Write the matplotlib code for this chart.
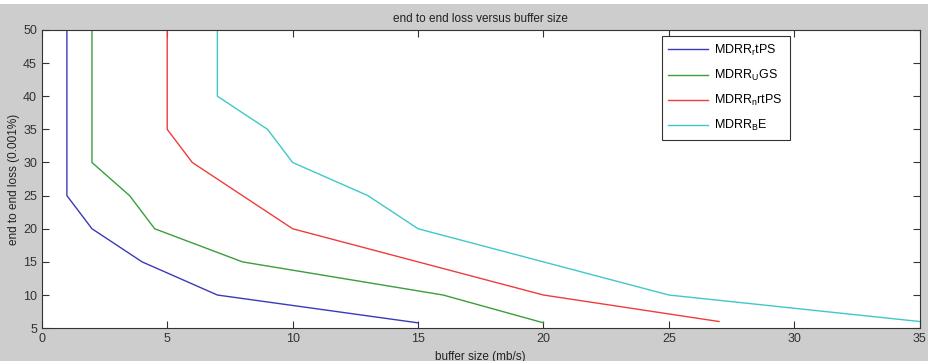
import matplotlib
matplotlib.use("Agg")
import matplotlib.pyplot as plt
from matplotlib.patches import Rectangle

plt.rcParams['font.family'] = ['Liberation Sans', 'DejaVu Sans']
plt.rcParams['mathtext.default'] = 'regular'

# series data (buffer size, loss)
rtps_x = [1, 1, 2, 4, 7, 15]
rtps_y = [50, 25, 20, 15, 10, 5.8]
ugs_x = [2, 2, 3.5, 4.5, 8, 16, 20]
ugs_y = [50, 30, 25, 20, 15, 10, 5.8]
nrtps_x = [5, 5, 6, 10, 15, 20, 27]
nrtps_y = [50, 35, 30, 20, 15, 10, 6]
be_x = [7, 7, 9, 10, 13, 15, 20, 25, 35]
be_y = [50, 40, 35, 30, 25, 20, 15, 10, 6]

labels = [r'MDRR$_r$tPS', r'MDRR$_U$GS', r'MDRR$_n$rtPS', r'MDRR$_B$E']
colors = ['#3a3ab8', '#3a9e3a', '#f03c3c', '#40c8c8']

def main():
    fig = plt.figure(figsize=(9.29, 3.61), dpi=100, facecolor='#cdcdcd')
    # thin white strip along the top edge
    fig.patches.append(Rectangle((0, 0.989), 1, 0.011, transform=fig.transFigure,
                                 facecolor='white', edgecolor='none'))
    ax = fig.add_axes([0.045, 0.091, 0.945, 0.826])
    ax.plot(rtps_x, rtps_y, color=colors[0], lw=1, label=labels[0])
    ax.plot(ugs_x, ugs_y, color=colors[1], lw=1, label=labels[1])
    ax.plot(nrtps_x, nrtps_y, color=colors[2], lw=1, label=labels[2])
    ax.plot(be_x, be_y, color=colors[3], lw=1, label=labels[3])

    ax.set_xlim(0, 35)
    ax.set_ylim(5, 50)
    ax.set_xticks(range(0, 36, 5))
    ax.set_yticks(range(5, 51, 5))
    ax.tick_params(direction='in', length=5, labelsize=9, colors='#333333',
                   top=True, right=True)
    for s in ax.spines.values():
        s.set_color('#333333')
    ax.set_title('end to end loss versus buffer size', fontsize=8.5, pad=6,
                 color='#222222')
    ax.set_xlabel('buffer size (mb/s)', fontsize=8.5, labelpad=4,
                  color='#222222')
    ax.set_ylabel('end to end loss (0.001%)', fontsize=8.5, labelpad=2,
                  color='#222222')
    ax.xaxis.set_label_coords(0.5, -0.075)

    leg = ax.legend(loc='upper left', bbox_to_anchor=(0.706, 0.98),
                    fontsize=9, fancybox=False, framealpha=1,
                    edgecolor='#333333', handlelength=3.2, handletextpad=0.45,
                    labelspacing=0.8, borderpad=0.55, borderaxespad=0)
    leg.get_frame().set_linewidth(0.8)

    fig.savefig('out.png', dpi=100, facecolor=fig.get_facecolor())

if __name__ == "__main__":
    main()
